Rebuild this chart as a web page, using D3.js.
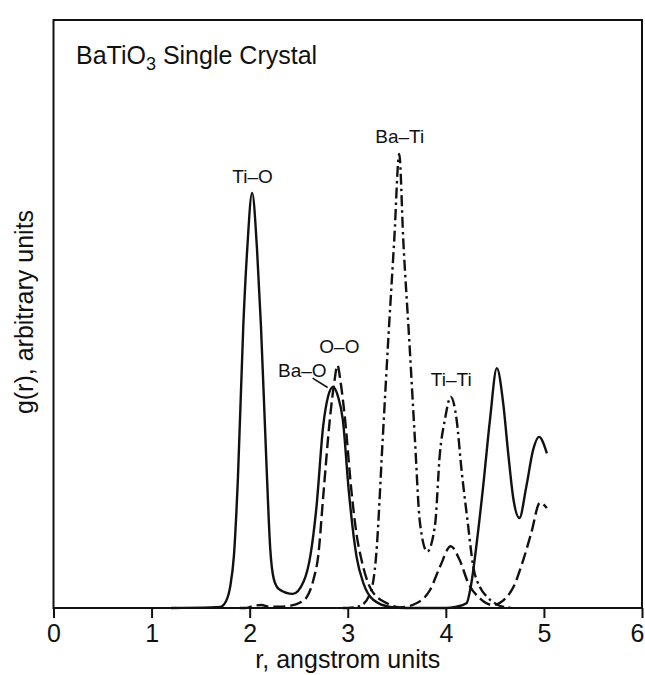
<!DOCTYPE html>
<html>
<head>
<meta charset="utf-8">
<script src="https://cdn.jsdelivr.net/npm/d3@7"></script>
<style>
  body { margin: 0; background: #fff; }
  text { font-family: "Liberation Sans", Arial, Helvetica, sans-serif; fill: #111; }
  .curve { fill: none; stroke: #111; stroke-width: 2.4; stroke-linejoin: round; }
  .frame { fill: none; stroke: #111; stroke-width: 2; }
</style>
</head>
<body>
<div id="chart"></div>
<script>
// DATA (g in arbitrary units 0..100)
const xTicks = [0, 1, 2, 3, 4, 5, 6]

// solid: Ti-O, Ba-O and the 4.5 / 5.0 peaks
const rSolid = [1.2, 1.60, 1.70, 1.76, 1.80, 1.84, 1.88, 1.935, 1.975, 2.025, 2.075, 2.115, 2.17, 2.21, 2.245, 2.30, 2.44, 2.55, 2.62, 2.68, 2.75, 2.80, 2.85, 2.90, 2.95, 3.01, 3.09, 3.16, 3.26, 3.43, 3.6, 4.0, 4.1, 4.21, 4.26, 4.31, 4.38, 4.45, 4.52, 4.585, 4.636, 4.69, 4.75, 4.82, 4.89, 4.95, 5.03]
const gSolid = [0, 0.1, 0.2, 1.2, 3.5, 9, 22, 48, 61, 70.6, 61, 48, 25, 10, 5, 3.2, 2.4, 4.5, 9, 17, 31, 36, 37.6, 36, 32, 20, 8.7, 4.2, 1.4, 0.2, 0, 0, 0.2, 0.8, 4.2, 10.4, 20.6, 32, 40.8, 34.8, 26.3, 18.4, 15.3, 20.6, 26.9, 29.1, 26.3]

// dashed: O-O
const rDash = [1.9, 1.95, 2.05, 2.12, 2.2, 2.3, 2.42, 2.51, 2.58, 2.65, 2.70, 2.75, 2.82, 2.862, 2.895, 2.928, 2.97, 3.04, 3.09, 3.14, 3.24, 3.40, 3.53, 3.70, 3.84, 3.94, 4.05, 4.14, 4.23, 4.35, 4.48, 4.60, 4.69, 4.79, 4.87, 4.96, 5.03]
const gDash = [0, 0, 0.4, 0.5, 0.2, 0.2, 0.4, 0.9, 1.8, 4.8, 9, 19, 32.5, 38.3, 41.3, 38.3, 32.5, 19.5, 12.5, 8.2, 3.1, 0.8, 0.1, 0.8, 3.1, 7, 10.5, 8.2, 4.2, 1.6, 0.5, 1.5, 3.6, 8.2, 12.7, 17.9, 17]

// dash-dot: Ba-Ti and Ti-Ti
const rDashDot = [2.95, 3.0, 3.12, 3.23, 3.29, 3.356, 3.413, 3.474, 3.525, 3.566, 3.627, 3.685, 3.736, 3.81, 3.889, 3.94, 3.99, 4.05, 4.11, 4.16, 4.22, 4.28, 4.35, 4.42, 4.52, 4.62, 4.7]
const gDashDot = [0, 0, 0.3, 2.5, 9, 28.6, 45.6, 62.6, 77.2, 62.6, 45.6, 28.6, 14.5, 9.6, 14, 26.4, 32, 35.9, 32, 23.5, 15, 7, 3.5, 1.9, 0.6, 0.1, 0]

const peakLabels = ["Ti\u2013O", "Ba\u2013Ti", "O\u2013O", "Ba\u2013O", "Ti\u2013Ti"]

//LAYOUT
var W = 645, H = 675
var FRAME = { LEFT: 53.5, RIGHT: 642, TOP: 20, BOTTOM: 608 }
// label anchors in data units: [r, g, anchor]
var LABEL_POS = [[2.03, 72.3, "middle"], [3.53, 79.1, "middle"], [2.915, 43.4, "middle"], [2.785, 39.3, "end"], [4.055, 37.8, "middle"]]

const svg = d3.select("#chart").append("svg")
	.attr("width", W)
	.attr("height", H)

//SCALES
let xScale = d3.scaleLinear().domain([0, 6]).range([FRAME.LEFT, FRAME.RIGHT])
let yScale = d3.scaleLinear().domain([0, 100]).range([FRAME.BOTTOM, FRAME.TOP])

// frame
svg.append("rect").attr("class", "frame")
	.attr("x", FRAME.LEFT).attr("y", FRAME.TOP)
	.attr("width", FRAME.RIGHT - FRAME.LEFT)
	.attr("height", FRAME.BOTTOM - FRAME.TOP)

//AXIS
const gAxisX = svg.append("g")
	.attr("transform", `translate(0, ${FRAME.BOTTOM})`)
	.call(d3.axisBottom(xScale).tickValues(xTicks).tickFormat(d3.format("d"))
		.tickSize(10).tickSizeOuter(0).tickPadding(6))
gAxisX.select(".domain").remove()
gAxisX.selectAll(".tick line").attr("stroke", "#111").attr("stroke-width", 2)
gAxisX.selectAll(".tick text").attr("font-size", 25).attr("fill", "#111")
	.style("font-family", '"Liberation Sans", Arial, sans-serif')
	.attr("dx", d => d == 6 ? -5 : 0)   // last label sits on the page edge

// CURVES
const line = d3.line()
	.curve(d3.curveMonotoneX)
	.x(d => xScale(d[0]))
	.y(d => yScale(d[1]))

function drawCurve(rs, gs, dash) {
	const pts = rs.map((r, i) => [r, gs[i]])
	svg.append("path").attr("class", "curve")
		.attr("d", line(pts))
		.attr("stroke-dasharray", dash)
}
drawCurve(rSolid, gSolid, null)
drawCurve(rDash, gDash, "12,5")
drawCurve(rDashDot, gDashDot, "11,4,2.5,4")

// PEAK LABELS
peakLabels.forEach((t, i) => {
	const p = LABEL_POS[i]
	svg.append("text").text(t)
		.attr("x", xScale(p[0])).attr("y", yScale(p[1]))
		.attr("text-anchor", p[2])
		.attr("font-size", 19)
})
// leader for Ba-O
svg.append("line")
	.attr("x1", xScale(2.642)).attr("y1", yScale(39.1))
	.attr("x2", xScale(2.795)).attr("y2", yScale(37.5))
	.attr("stroke", "#111").attr("stroke-width", 1.5)

// TITLE
const title = svg.append("text").attr("x", 76).attr("y", 64).attr("font-size", 25)
title.append("tspan").text("BaTiO")
title.append("tspan").text("3").attr("font-size", 18).attr("dy", 6)
title.append("tspan").text(" Single Crystal").attr("dy", -6)

// AXIS LABELS
svg.append("text").text("r, angstrom units")
	.attr("x", (FRAME.LEFT + FRAME.RIGHT) / 2).attr("y", 668)
	.attr("text-anchor", "middle").attr("font-size", 25)
svg.append("text").text("g(r), arbitrary units")
	.attr("transform", `translate(33, 312) rotate(-90)`)
	.attr("text-anchor", "middle").attr("font-size", 25)
</script>
</body>
</html>
